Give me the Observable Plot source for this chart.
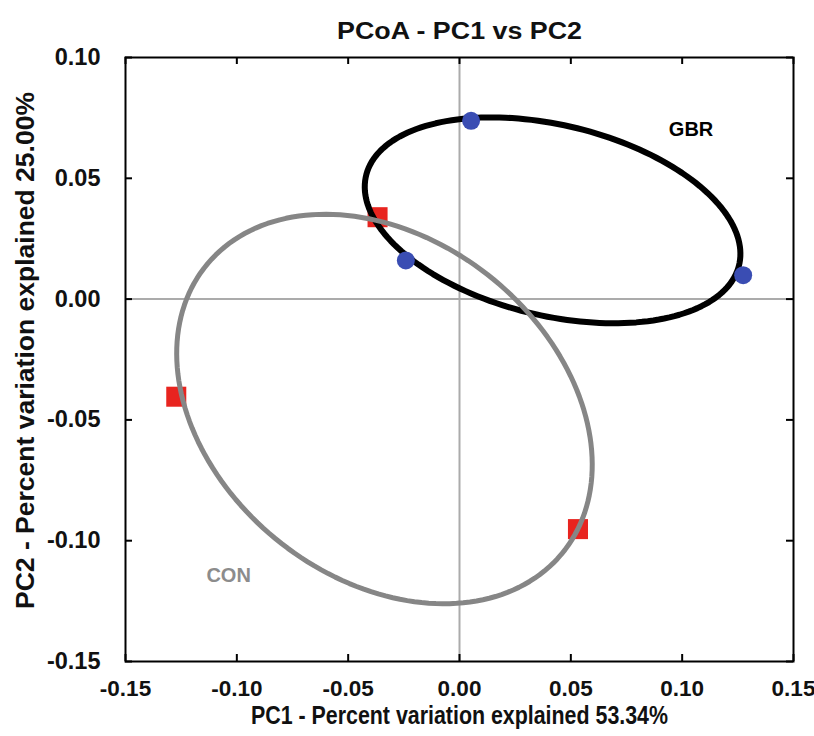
<!DOCTYPE html>
<html><head><meta charset="utf-8">
<script src="https://cdn.jsdelivr.net/npm/d3@7"></script>
<script src="https://cdn.jsdelivr.net/npm/@observablehq/plot@0.6"></script>
<style>
body{margin:0;background:#fff}
#chart svg{font-family:"Liberation Sans",Arial,sans-serif;}
</style>
</head><body><div id="chart"></div>
<script>
// Sample scores
const groups = ["GBR","GBR","GBR","CON","CON","CON"];
const pc1 = [0.0052,-0.0241,0.1274,-0.0368,-0.1272,0.0532];
const pc2 = [0.0738,0.0160,0.0099,0.0339,-0.0404,-0.0952];
// Axis ticks
const xTicks = [-0.15,-0.10,-0.05,0.00,0.05,0.10,0.15];
const yTicks = [-0.15,-0.10,-0.05,0.00,0.05,0.10];
// Group ellipses (centre, semi-axes, rotation in degrees, data units)
const ellGroups = ["GBR","CON"];
const ellCx = [0.0418,-0.0337];
const ellCy = [0.0326,-0.0455];
const ellA = [0.0858,0.1001];
const ellB = [0.0396,0.0720];
const ellAngle = [-11.9,-31.4];
// Group labels
const labelText = ["GBR","CON"];
const labelX = [0.104,-0.1037];
const labelY = [0.070,-0.1145];
// Texts
const titleText = "PCoA - PC1 vs PC2";
const xLabel = "PC1 - Percent variation explained 53.34%";
const yLabel = "PC2 - Percent variation explained 25.00%";

const pts = groups.map((g,i)=>({g, x:pc1[i], y:pc2[i]}));
const ellPts = [];
ellGroups.forEach((g,k)=>{
  const th = ellAngle[k]*Math.PI/180;
  for(let d=0; d<360; d+=2){
    const t = d*Math.PI/180;
    ellPts.push({g,
      x: ellCx[k] + ellA[k]*Math.cos(t)*Math.cos(th) - ellB[k]*Math.sin(t)*Math.sin(th),
      y: ellCy[k] + ellA[k]*Math.cos(t)*Math.sin(th) + ellB[k]*Math.sin(t)*Math.cos(th)});
  }
});
const labels = labelText.map((t,i)=>({t,x:labelX[i],y:labelY[i]}));

const W=814, H=736, mL=125, mR=21, mT=57, mB=75;
const pw=W-mL-mR, ph=H-mT-mB, tk=7;
const bold = {fontWeight:"bold"};
const fmt = d => d.toFixed(2);

const plot = Plot.plot({
  width:W, height:H, marginLeft:mL, marginRight:mR, marginTop:mT, marginBottom:mB,
  x:{domain:[-0.15,0.15]},
  y:{domain:[-0.15,0.10]},
  style:{background:"white", color:"#111"},
  marks:[
    Plot.ruleX([0],{stroke:"#ababab",strokeWidth:2}),
    Plot.ruleY([0],{stroke:"#ababab",strokeWidth:2}),
    Plot.dot(pts.filter(d=>d.g==="CON"),{x:"x",y:"y",symbol:"square",r:11.3,fill:"#e8241f",stroke:"none"}),
    Plot.line(ellPts.filter(d=>d.g==="GBR"),{x:"x",y:"y",curve:"linear-closed",stroke:"#000",strokeWidth:6}),
    Plot.line(ellPts.filter(d=>d.g==="CON"),{x:"x",y:"y",curve:"linear-closed",stroke:"#868686",strokeWidth:5}),
    Plot.dot(pts.filter(d=>d.g==="GBR"),{x:"x",y:"y",symbol:"circle",r:9,fill:"#3a4db3",stroke:"none"}),
    // inward ticks on all four sides
    Plot.tickX(xTicks,{x:d=>d,insetTop:ph-tk,stroke:"#000",strokeWidth:2}),
    Plot.tickX(xTicks,{x:d=>d,insetBottom:ph-tk,stroke:"#000",strokeWidth:2}),
    Plot.tickY(yTicks,{y:d=>d,insetRight:pw-tk,stroke:"#000",strokeWidth:2}),
    Plot.tickY(yTicks,{y:d=>d,insetLeft:pw-tk,stroke:"#000",strokeWidth:2}),
    Plot.frame({stroke:"#000",strokeWidth:2}),
    Plot.axisX(xTicks,{tickSize:0,tickPadding:19,tickFormat:fmt,fontSize:22.5,fontWeight:"bold",label:null}),
    Plot.axisY(yTicks,{tickSize:0,tickPadding:25,tickFormat:fmt,fontSize:23.5,fontWeight:"bold",label:null}),
    Plot.text(labels.filter(d=>d.t==="GBR"),{x:"x",y:"y",text:"t",fontSize:20,fill:"#000",...bold}),
    Plot.text(labels.filter(d=>d.t==="CON"),{x:"x",y:"y",text:"t",fontSize:20,fill:"#8c8c8c",...bold}),
    Plot.text([titleText],{text:d=>d,frameAnchor:"top",dy:-35,fontSize:23,...bold}),
    Plot.text([xLabel],{text:d=>d,frameAnchor:"bottom",dy:62,fontSize:25,...bold}),
    Plot.text([yLabel],{text:d=>d,frameAnchor:"left",textAnchor:"middle",dx:-100,dy:-9,rotate:-90,fontSize:26.5,...bold})
  ]
});
document.getElementById("chart").appendChild(plot);
// condensed look of the reference's horizontal headings
const fit = {[titleText]:245,[xLabel]:417};
plot.querySelectorAll("text").forEach(t=>{
  const s=t.textContent;
  if(fit[s]){t.setAttribute("textLength",fit[s]);t.setAttribute("lengthAdjust","spacingAndGlyphs");}
});
</script>
</body></html>
